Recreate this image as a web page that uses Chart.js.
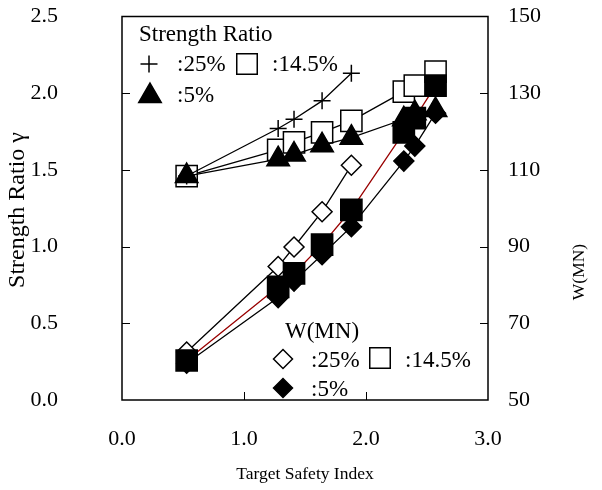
<!DOCTYPE html>
<html>
<head>
<meta charset="utf-8">
<script src="https://cdn.jsdelivr.net/npm/chart.js@4/dist/chart.umd.min.js"></script>
<style>
  html, body { margin: 0; padding: 0; background: #fff; }
  #wrap { width: 602px; height: 490px; position: relative; }
</style>
</head>
<body>
<div id="wrap"><canvas id="c"></canvas></div>
<script>
// Target safety index for each design case
const safetyIndex = [0.53, 1.28, 1.41, 1.64, 1.88, 2.31, 2.40, 2.57];

// Strength ratio (left axis)
const ratio25  = [1.46, 1.77, 1.83, 1.95, 2.13];
const ratio145 = [1.46, 1.63, 1.68, 1.745, 1.82, 2.01, 2.05, 2.14];
const ratio5   = [1.46, 1.57, 1.60, 1.66, 1.71, 1.83, 1.87, 1.89];

// Weight W in MN (right axis)
const w25  = [62.5, 84.8, 89.9, 99.1, 111.2];
const w145 = [60.3, 79.5, 83.0, 90.5, 99.6, 119.8, 123.5, 132.0];
const w5   = [59.6, 76.7, 81.0, 87.9, 95.2, 112.3, 116.2, 124.8];

// Axis ticks
const xTicks = [0.0, 1.0, 2.0, 3.0];
const ratioTicks = [0.0, 0.5, 1.0, 1.5, 2.0, 2.5];
const wTicks = [50, 70, 90, 110, 130, 150];

const SERIF = '"Liberation Serif", "Times New Roman", serif';
const pts = (ys) => ys.map((y, i) => ({ x: safetyIndex[i], y }));

function series(label, ys, axis, style, opts) {
  return Object.assign({
    label,
    data: pts(ys),
    yAxisID: axis,
    pointStyle: style,
    borderColor: '#000',
    borderWidth: 1.3,
    pointBorderColor: '#000',
    pointBorderWidth: 1.5,
    pointBackgroundColor: '#fff',
    pointHoverRadius: 0,
    tension: 0,
    fill: false
  }, opts);
}

const datasets = [
  series(':14.5%', ratio145, 'yL', 'rect', { pointRadius: 15, order: 6 }),
  series(':25%',   ratio25,  'yL', 'cross', { pointRadius: 8.5, order: 5 }),
  series(':5%',    ratio5,   'yL', 'triangle', { pointRadius: 13, pointBackgroundColor: '#000', order: 4 }),
  series(':25%',   w25,      'yR', 'rectRot', { pointRadius: 10, order: 3 }),
  series(':5%',    w5,       'yR', 'rectRot', { pointRadius: 10, pointBackgroundColor: '#000', order: 2 }),
  series(':14.5%', w145,     'yR', 'rect', { pointRadius: 15, pointBackgroundColor: '#000', borderColor: '#990000', order: 1 })
];

// Small marker painter for the in-plot keys
function marker(ctx, style, x, y, r, fill) {
  ctx.save();
  ctx.lineWidth = 1.5;
  ctx.strokeStyle = '#000';
  ctx.fillStyle = fill;
  ctx.beginPath();
  if (style === 'cross') {
    ctx.moveTo(x - r, y); ctx.lineTo(x + r, y);
    ctx.moveTo(x, y - r); ctx.lineTo(x, y + r);
    ctx.stroke();
  } else {
    if (style === 'rect') {
      const s = r * Math.SQRT1_2;
      ctx.rect(x - s, y - s, 2 * s, 2 * s);
    } else if (style === 'rectRot') {
      ctx.moveTo(x - r, y); ctx.lineTo(x, y - r); ctx.lineTo(x + r, y); ctx.lineTo(x, y + r); ctx.closePath();
    } else if (style === 'triangle') {
      const h = Math.sqrt(3) / 2 * r;
      ctx.moveTo(x, y - r); ctx.lineTo(x + h, y + r / 2); ctx.lineTo(x - h, y + r / 2); ctx.closePath();
    }
    ctx.fill();
    ctx.stroke();
  }
  ctx.restore();
}

const frameAndText = {
  id: 'frameAndText',
  afterDraw(chart) {
    const { ctx, chartArea: a, scales } = chart;
    ctx.save();
    // plot frame
    ctx.strokeStyle = '#000';
    ctx.lineWidth = 1.5;
    ctx.strokeRect(a.left, a.top, a.right - a.left, a.bottom - a.top);
    // inward tick marks
    ctx.lineWidth = 1;
    ctx.beginPath();
    const T = 8;
    xTicks.slice(1, -1).forEach(v => {
      const px = Math.round(scales.x.getPixelForValue(v)) + 0.5;
      ctx.moveTo(px, a.bottom); ctx.lineTo(px, a.bottom - T);
    });
    ratioTicks.slice(1, -1).forEach(v => {
      const py = Math.round(scales.yL.getPixelForValue(v)) + 0.5;
      ctx.moveTo(a.left, py); ctx.lineTo(a.left + T, py);
    });
    wTicks.slice(1, -1).forEach(v => {
      const py = Math.round(scales.yR.getPixelForValue(v)) + 0.5;
      ctx.moveTo(a.right, py); ctx.lineTo(a.right - T, py);
    });
    ctx.stroke();

    // axis titles
    ctx.fillStyle = '#000';
    ctx.textAlign = 'center';
    ctx.textBaseline = 'middle';
    ctx.font = '17.5px ' + SERIF;
    ctx.fillText('Target Safety Index', 305, 474);
    ctx.save();
    ctx.translate(579, 272);
    ctx.rotate(-Math.PI / 2);
    ctx.fillText('W(MN)', 0, 0);
    ctx.restore();
    ctx.font = '24px ' + SERIF;
    ctx.save();
    ctx.translate(18, 210);
    ctx.rotate(-Math.PI / 2);
    ctx.fillText('Strength Ratio \u03b3', 0, 0);
    ctx.restore();

    // keys inside the plot
    ctx.font = '23px ' + SERIF;
    ctx.textAlign = 'left';
    ctx.textBaseline = 'alphabetic';
    ctx.fillText('Strength Ratio', 139, 41);
    marker(ctx, 'cross', 149, 64, 8.5, '#000');
    ctx.fillText(':25%', 177, 71);
    marker(ctx, 'rect', 247, 64, 14.5, '#fff');
    ctx.fillText(':14.5%', 272, 71);
    marker(ctx, 'triangle', 150, 96, 13, '#000');
    ctx.fillText(':5%', 177, 102);

    ctx.fillText('W(MN)', 285, 338);
    marker(ctx, 'rectRot', 283, 359, 9.5, '#fff');
    ctx.fillText(':25%', 311, 367);
    marker(ctx, 'rect', 380, 358, 14.5, '#fff');
    ctx.fillText(':14.5%', 405, 367);
    marker(ctx, 'rectRot', 283, 388, 9.5, '#000');
    ctx.fillText(':5%', 311, 396);
    ctx.restore();
  }
};

const tickFont = { family: SERIF, size: 22 };
// fixed box sizes so the plot area lands at 122..488 x 12..400
const fixVertical = w => s => { s.width = w; s.paddingTop = 0; s.paddingBottom = 0; };

new Chart(document.getElementById('c'), {
  type: 'line',
  data: { datasets },
  options: {
    responsive: true,
    maintainAspectRatio: false,
    animation: false,
    events: [],
    layout: { padding: { top: 12, left: 0, right: 0, bottom: 0 } },
    plugins: { legend: { display: false }, tooltip: { enabled: false } },
    scales: {
      x: {
        type: 'linear', min: 0, max: 3,
        afterBuildTicks: s => { s.ticks = xTicks.map(v => ({ value: v })); },
        afterFit: s => { s.height = 90; s.paddingLeft = 0; s.paddingRight = 0; },
        grid: { display: false, drawTicks: false },
        border: { display: false },
        ticks: { color: '#000', font: tickFont, padding: 26, maxRotation: 0,
                 callback: v => Number(v).toFixed(1) }
      },
      yL: {
        type: 'linear', position: 'left', min: 0, max: 2.5,
        afterBuildTicks: s => { s.ticks = ratioTicks.map(v => ({ value: v })); },
        afterFit: fixVertical(122),
        grid: { display: false, drawTicks: false },
        border: { display: false },
        ticks: { color: '#000', font: tickFont, padding: 64,
                 callback: v => Number(v).toFixed(1) }
      },
      yR: {
        type: 'linear', position: 'right', min: 50, max: 150,
        afterBuildTicks: s => { s.ticks = wTicks.map(v => ({ value: v })); },
        afterFit: fixVertical(114),
        grid: { display: false, drawTicks: false },
        border: { display: false },
        ticks: { color: '#000', font: tickFont, padding: 20,
                 callback: v => String(v) }
      }
    }
  },
  plugins: [frameAndText]
});
</script>
</body>
</html>
